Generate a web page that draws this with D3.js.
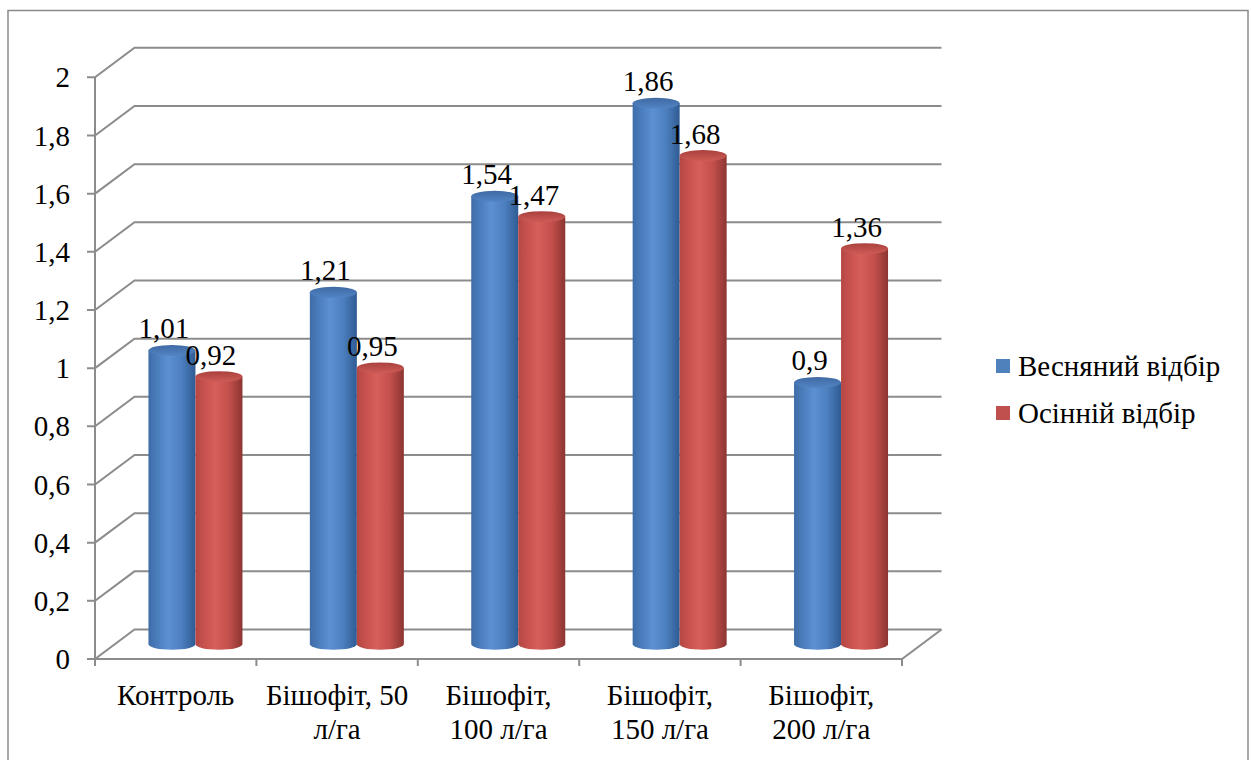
<!DOCTYPE html>
<html>
<head>
<meta charset="utf-8">
<script src="https://cdn.jsdelivr.net/npm/d3@7"></script>
</head>
<body style="margin:0">
<svg id="chart" width="1251" height="760"></svg>
<script>
// Categories (two-line labels) and the two sampling series
const categories = ["Контроль", "Бішофіт, 50 л/га", "Бішофіт, 100 л/га", "Бішофіт, 150 л/га", "Бішофіт, 200 л/га"];
const categoryLines = [["Контроль"], ["Бішофіт, 50", "л/га"], ["Бішофіт,", "100 л/га"], ["Бішофіт,", "150 л/га"], ["Бішофіт,", "200 л/га"]];
const seriesNames = ["Весняний відбір", "Осінній відбір"];
const springValues = [1.01, 1.21, 1.54, 1.86, 0.9];
const autumnValues = [0.92, 0.95, 1.47, 1.68, 1.36];
const yTicks = [0, 0.2, 0.4, 0.6, 0.8, 1, 1.2, 1.4, 1.6, 1.8, 2];

const svg = d3.select("#chart");
const fmt = v => String(v).replace(".", ",");
const styleText = sel => sel
  .attr("font-size", 29)
  .attr("font-family", "Liberation Serif")
  .style("font-family", '"Liberation Serif"', "important");

// Plot frame: front plane plus a depth offset for the 3D floor/back wall
const left = 95, right = 902, floorY = 659, topY = 77.3;
const depth = { dx: 39.5, dy: -29.5 };
const gridColor = "#8c8c8c";

const x = d3.scaleBand().domain(categories).range([left, right]);
const xs = d3.scaleBand().domain(seriesNames).range([0, x.bandwidth()]).paddingInner(0).paddingOuter(0.717);
const y = d3.scaleLinear().domain([0, 2]).range([floorY, topY]);

// Outer chart border
svg.append("path")
  .attr("d", "M8,770 L8,10.5 L1248,10.5 L1248,770")
  .attr("fill", "none").attr("stroke", "#8a8a8a").attr("stroke-width", 1.5);

// Gradients for cylinder sides and tops
const defs = svg.append("defs");
const palettes = {
  "Весняний відбір": { side: ["#3e6ca8", "#4f82c2", "#5b90d2", "#4d80c0", "#2f5b93"], top: ["#3f6aa3", "#5284c4"], legend: "#4f81bd" },
  "Осінній відбір": { side: ["#b54743", "#cc5551", "#d65f5a", "#c4504c", "#8c3532"], top: ["#a9413d", "#cf5b56"], legend: "#c0504d" }
};
Object.entries(palettes).forEach(([name, p], i) => {
  const g = defs.append("linearGradient").attr("id", "side" + i).attr("x1", 0).attr("x2", 1).attr("y1", 0).attr("y2", 0);
  [0, 0.25, 0.42, 0.7, 1].forEach((o, k) => g.append("stop").attr("offset", o).attr("stop-color", p.side[k]));
  const t = defs.append("linearGradient").attr("id", "top" + i).attr("x1", 0).attr("x2", 0).attr("y1", 0).attr("y2", 1);
  t.append("stop").attr("offset", 0).attr("stop-color", p.top[0]);
  t.append("stop").attr("offset", 1).attr("stop-color", p.top[1]);
});

// Gridlines: front tick, diagonal to the back wall, horizontal along the back wall
const grid = svg.append("g").attr("fill", "none").attr("stroke", gridColor).attr("stroke-width", 2);
yTicks.forEach(v => {
  const yf = y(v);
  grid.append("path").attr("d", `M${left - 8},${yf} L${left},${yf} L${left + depth.dx},${yf + depth.dy} L${right + depth.dx},${yf + depth.dy}`);
});
// Vertical axis, floor front edge and right floor edge
grid.append("path").attr("d", `M${left},${y(2)} L${left},${floorY} L${right},${floorY} L${right + depth.dx},${floorY + depth.dy}`);
// Category ticks
categories.forEach(c => {
  const xx = x(c);
  grid.append("path").attr("d", `M${xx},${floorY} L${xx},${floorY + 7}`);
});
grid.append("path").attr("d", `M${right},${floorY} L${right},${floorY + 7}`);

// Y tick labels
svg.append("g").selectAll("text").data(yTicks).join("text")
  .attr("x", 70).attr("y", d => y(d)).attr("dy", "0.35em")
  .attr("text-anchor", "end")
  .call(styleText)
  .text(d => fmt(d));

// Cylinders drawn at mid-depth of the floor
const mid = { dx: depth.dx * 0.5, dy: depth.dy * 0.5 };
const rx = xs.bandwidth() / 2, ry = 5.5;
const rows = [];
categories.forEach((c, i) => {
  rows.push({ cat: c, s: 0, name: seriesNames[0], v: springValues[i] });
  rows.push({ cat: c, s: 1, name: seriesNames[1], v: autumnValues[i] });
});
const bars = svg.append("g");
rows.forEach(d => {
  const cx = x(d.cat) + xs(d.name) + rx + mid.dx;
  const yb = y(0) + mid.dy, yt = y(d.v) + mid.dy;
  bars.append("path")
    .attr("d", `M${cx - rx},${yt} L${cx - rx},${yb} A${rx},${ry} 0 0 0 ${cx + rx},${yb} L${cx + rx},${yt} Z`)
    .attr("fill", `url(#side${d.s})`);
  bars.append("ellipse").attr("cx", cx).attr("cy", yt).attr("rx", rx).attr("ry", ry)
    .attr("fill", `url(#top${d.s})`);
  d.cx = cx; d.yt = yt;
});

// Value labels
svg.append("g").selectAll("text").data(rows).join("text")
  .attr("x", d => d.cx - 8).attr("y", d => d.yt - 12)
  .attr("text-anchor", "middle")
  .call(styleText)
  .text(d => fmt(d.v));

// Category labels
const catG = svg.append("g");
categories.forEach((c, i) => {
  const cx = x(c) + x.bandwidth() / 2;
  const t = catG.append("text").attr("x", cx).attr("y", 705).attr("text-anchor", "middle").call(styleText);
  categoryLines[i].forEach((line, k) => t.append("tspan").attr("x", cx).attr("dy", k ? 34 : 0).text(line));
});

// Legend
const legend = svg.append("g");
seriesNames.forEach((n, i) => {
  const ly = 366 + i * 47;
  legend.append("rect").attr("x", 996).attr("y", ly - 7).attr("width", 14).attr("height", 14).attr("fill", palettes[n].legend);
  legend.append("text").attr("x", 1018).attr("y", ly).attr("dy", "0.35em").call(styleText).text(n);
});
</script>
</body>
</html>
